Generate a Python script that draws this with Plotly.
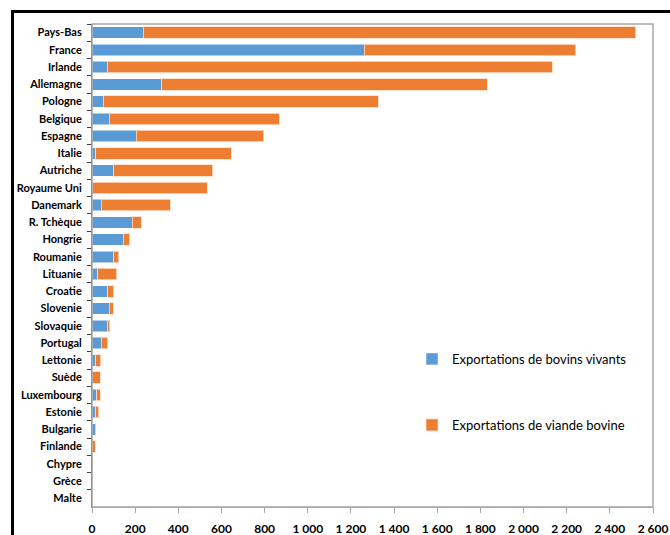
import plotly.graph_objects as go

pays = ["Pays-Bas", "France", "Irlande", "Allemagne", "Pologne", "Belgique", "Espagne",
        "Italie", "Autriche", "Royaume Uni", "Danemark", "R. Tchèque", "Hongrie", "Roumanie",
        "Lituanie", "Croatie", "Slovenie", "Slovaquie", "Portugal", "Lettonie", "Suède",
        "Luxembourg", "Estonie", "Bulgarie", "Finlande", "Chypre", "Grèce", "Malte"]
bovins_vivants = [238, 1261, 71, 323, 52, 80, 204, 18, 100, 4, 42, 187, 144, 100,
                  26, 73, 79, 73, 42, 17, 4, 23, 17, 15, 2, 0, 0, 0]
viande_bovine = [2282, 981, 2063, 1509, 1274, 788, 592, 627, 459, 531, 321, 42, 31, 24,
                 88, 27, 20, 9, 31, 23, 35, 15, 14, 3, 12, 3, 0, 0]
x_ticks = list(range(0, 2601, 200))
x_tick_labels = ["0", "200", "400", "600", "800", "1 000", "1 200", "1 400", "1 600",
                 "1 800", "2 000", "2 200", "2 400", "2 600"]

FONT = "Lato, Carlito, Calibri, sans-serif"
BLUE = "#5B9BD5"
ORANGE = "#ED7D31"

fig = go.Figure()
fig.add_trace(go.Bar(
    y=pays, x=bovins_vivants, orientation="h", name="Exportations de bovins vivants",
    marker=dict(color=BLUE, line=dict(color="rgba(255,255,255,0.5)", width=1)),
    legend="legend",
))
fig.add_trace(go.Bar(
    y=pays, x=viande_bovine, orientation="h", name="Exportations de viande bovine",
    marker=dict(color=ORANGE, line=dict(color="rgba(255,220,200,0.8)", width=1)),
    legend="legend2",
))

L, R, T, B = 92, 653, 24, 507
W, H = 670, 535
pw, ph = R - L, B - T

def px(x):
    return (x - L) / pw

def py(y):
    return (B - y) / ph

fig.update_layout(
    width=W, height=H,
    margin=dict(l=L, r=W - R, t=T, b=H - B, pad=0),
    barmode="stack",
    bargap=0.34,
    plot_bgcolor="white",
    paper_bgcolor="white",
    font=dict(family=FONT, color="#000000"),
    showlegend=True,
    legend=dict(x=px(412), y=py(359), xanchor="left", yanchor="middle",
                font=dict(size=13, family=FONT, color="#000"),
                bgcolor="rgba(0,0,0,0)", itemwidth=30, traceorder="normal"),
    legend2=dict(x=px(412), y=py(425), xanchor="left", yanchor="middle",
                 font=dict(size=13, family=FONT, color="#000"),
                 bgcolor="rgba(0,0,0,0)", itemwidth=30),
    xaxis=dict(
        range=[0, 2600], tickvals=x_ticks, ticktext=x_tick_labels,
        showgrid=False, zeroline=False, automargin=False,
        showline=True, linecolor="#A6A6A6", linewidth=1,
        ticks="outside", ticklen=5, tickcolor="#A6A6A6",
        tickfont=dict(size=12, family=FONT, color="#000", weight="bold"),
        ticklabelstandoff=6,
        fixedrange=True,
    ),
    yaxis=dict(
        categoryorder="array", categoryarray=pays, autorange="reversed",
        showgrid=False, zeroline=False, automargin=False,
        showline=True, linecolor="#595959", linewidth=1,
        ticks="outside", ticklen=4, tickcolor="#404040", tickson="boundaries",
        tickfont=dict(size=11, family=FONT, color="#000", weight="bold"),
        ticklabelstandoff=7,
        fixedrange=True,
    ),
    shapes=[
        dict(type="rect", xref="paper", yref="paper", x0=0, x1=1, y0=0, y1=1,
             line=dict(color="#A6A6A6", width=1.5), layer="above"),
        dict(type="line", xref="paper", yref="paper", x0=px(12.5), x1=px(12.5),
             y0=py(10), y1=py(545), line=dict(color="#000", width=3)),
        dict(type="line", xref="paper", yref="paper", x0=px(11), x1=px(680),
             y0=py(11.5), y1=py(11.5), line=dict(color="#000", width=3)),
    ],
)

fig.write_html("out.html")
